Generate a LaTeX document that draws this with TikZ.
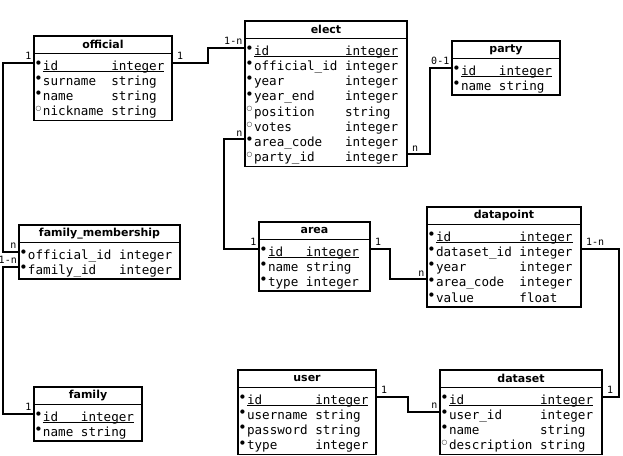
\documentclass[tikz,border=0pt]{standalone}
\usepackage{fontspec}
\newfontfamily\ermono{DejaVu Sans Mono}
\newfontfamily\ersans{DejaVu Sans}
\newlength\cw
\AtBeginDocument{\settowidth\cw{\ermono\fontsize{12.6}{15}\selectfont 0}}
\def\titleh{17.5}
\def\padtop{1.5}
\def\padbot{4.5}
\def\rowh{15.25}
\newcommand\erdot{\raisebox{5.6pt}{\ersans\fontsize{5.5}{6}\selectfont ●}}
\newcommand\ercirc{\raisebox{5.2pt}{\ersans\bfseries\fontsize{6.5}{7}\selectfont ○}}
\newcommand\erpk[3]{\makebox[9pt][l]{\hspace{2pt}\erdot}\makebox[0pt][l]{\rule[-1.6pt]{\dimexpr#1\cw+7\cw\relax}{0.7pt}}\makebox[#1\cw][l]{#2}#3}
\newcommand\erreq[3]{\makebox[9pt][l]{\hspace{2pt}\erdot}\makebox[#1\cw][l]{#2}#3}
\newcommand\eropt[3]{\makebox[9pt][l]{\hspace{1.6pt}\ercirc}\makebox[#1\cw][l]{#2}#3}
\tikzset{
  erline/.style={line width=1.8pt},
  conn/.style={line width=1.8pt},
  ertitle/.style={inner sep=0pt, font=\ersans\bfseries\fontsize{11}{12}\selectfont},
  errow/.style={inner sep=0pt, text height=15.5pt, text depth=0.75pt, font=\ermono\fontsize{12.6}{15}\selectfont},
  lab/.style={inner sep=0.8pt, font=\ermono\fontsize{10}{11}\selectfont},
  labr/.style={lab, anchor=south west, xshift=4pt, yshift=2pt},
  labl/.style={lab, anchor=south east, xshift=-1.5pt, yshift=2pt}
}
\newcommand\ertable[8]{%
  \pgfmathsetmacro\erw{#3-#2}%
  \pgfmathsetmacro\erbot{#4+\titleh+\padtop+\padbot+#7*\rowh}%
  \draw[erline] (#2,#4) rectangle (#3,\erbot);
  \draw[erline] (#2,#4+\titleh) -- (#3,#4+\titleh);
  \node[ertitle] (#1) at ({(#2+#3)/2},{#4+\titleh/2}) {#5};
  \foreach [count=\ri] \fl/\nm/\ty in {#8}{
    \node[errow] (#1-\ri) at ({(#2+#3)/2},{#4+\titleh+\padtop+(\ri-0.5)*\rowh}) {\makebox[\erw pt][l]{\fl{#6}{\nm}{\ty}}};
  }%
}
\begin{document}
\begin{tikzpicture}[x=1pt,y=-1pt]
\useasboundingbox[fill=white] (0,0) rectangle (623,455);
\ertable{official}{34}{172}{36}{official}{9}{4}{\erpk/id/integer,\erreq/surname/string,\erreq/name/string,\eropt/nickname/string}
\ertable{elect}{245}{407}{21}{elect}{12}{8}{\erpk/id/integer,\erreq/official\_id/integer,\erreq/year/integer,\erreq/year\_end/integer,\eropt/position/string,\eropt/votes/integer,\erreq/area\_code/integer,\eropt/party\_id/integer}
\ertable{party}{452}{560}{41}{party}{5}{2}{\erpk/id/integer,\erreq/name/string}
\ertable{fm}{19}{180}{225}{family\_membership}{12}{2}{\erreq/official\_id/integer,\erreq/family\_id/integer}
\ertable{area}{259}{370}{222}{area}{5}{3}{\erpk/id/integer,\erreq/name/string,\erreq/type/integer}
\ertable{datapoint}{427}{581}{207}{datapoint}{11}{5}{\erpk/id/integer,\erreq/dataset\_id/integer,\erreq/year/integer,\erreq/area\_code/integer,\erreq/value/float}
\ertable{family}{34}{142}{387}{family}{5}{2}{\erpk/id/integer,\erreq/name/string}
\ertable{user}{238}{376}{370}{user}{9}{4}{\erpk/id/integer,\erreq/username/string,\erreq/password/string,\erreq/type/integer}
\ertable{dataset}{440}{602}{370}{dataset}{12}{4}{\erpk/id/integer,\erreq/user\_id/integer,\erreq/name/string,\eropt/description/string}
% connectors
\draw[conn] (official-1.east) -- ++(36,0) |- (elect-1.west);
\node[labr] (l1a) at (official-1.east) {1};
\node[labl] (l1b) at (elect-1.west) {1-n};
\draw[conn] (official-1.west) -- ++(-31,0) |- (fm-1.west);
\node[labl] (l2a) at (official-1.west) {1};
\node[labl] (l2b) at (fm-1.west) {n};
\draw[conn] (fm-2.west) -- ++(-16,0) |- (family-1.west);
\node[labl, xshift=0.5pt] (l3a) at (fm-2.west) {1-n};
\node[labl] (l3b) at (family-1.west) {1};
\draw[conn] (elect-7.west) -- ++(-21,0) |- (area-1.west);
\node[labl] (l4a) at (elect-7.west) {n};
\node[labl] (l4b) at (area-1.west) {1};
\draw[conn] (elect-8.east) -- ++(23,0) |- (party-1.west);
\node[labr] (l5a) at (elect-8.east) {n};
\node[labl] (l5b) at (party-1.west) {0-1};
\draw[conn] (area-1.east) -- ++(20,0) |- (datapoint-4.west);
\node[labr] (l6a) at (area-1.east) {1};
\node[labl] (l6b) at (datapoint-4.west) {n};
\draw[conn] (datapoint-2.east) -- ++(38,0) |- (dataset-1.east);
\node[labr] (l7a) at (datapoint-2.east) {1-n};
\node[labr] (l7b) at (dataset-1.east) {1};
\draw[conn] (user-1.east) -- ++(32,0) |- (dataset-2.west);
\node[labr] (l8a) at (user-1.east) {1};
\node[labl] (l8b) at (dataset-2.west) {n};
\end{tikzpicture}
\end{document}
